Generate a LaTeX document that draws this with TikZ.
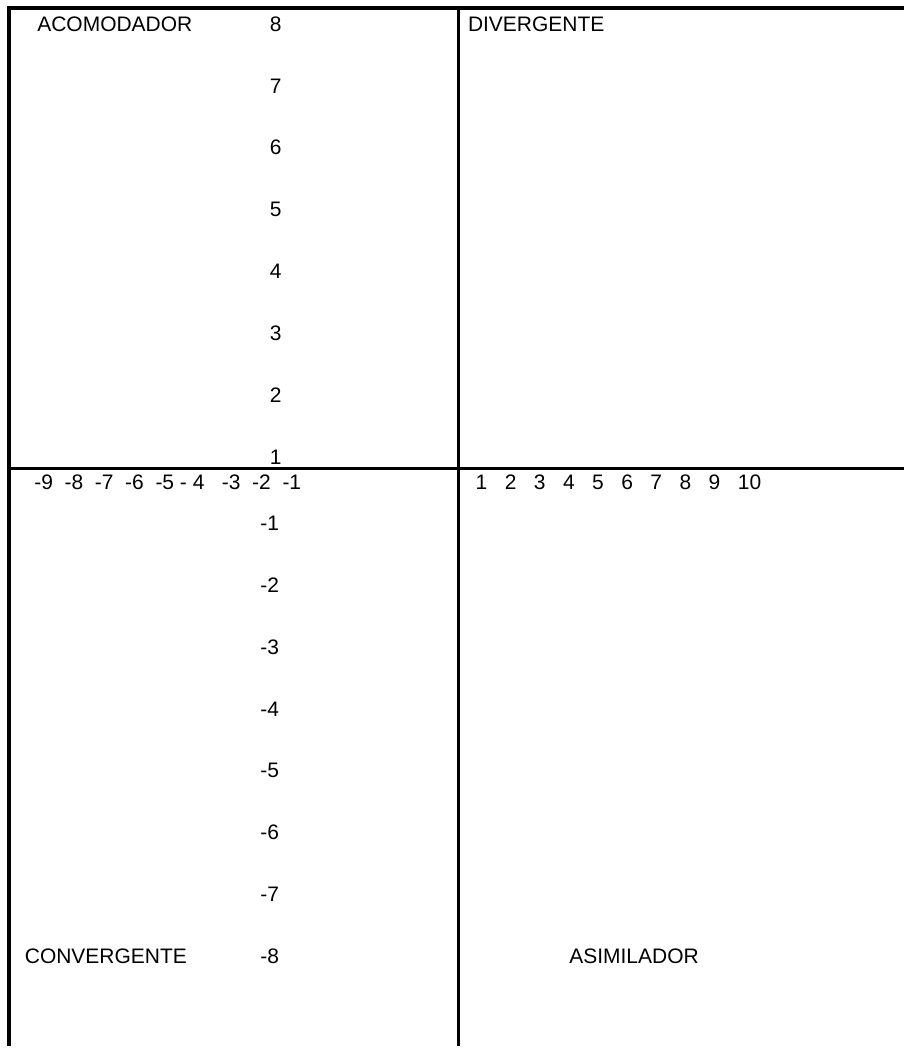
\documentclass[tikz,border=0pt]{standalone}
\usepackage{fontspec}
\setmainfont{Liberation Sans}
\usetikzlibrary{positioning}

\begin{document}
\begin{tikzpicture}[
    x=0.5pt, y=-0.5pt,
    node distance=31pt,
    on grid,
    frame/.style={line width=1.6pt},
    quadrant/.style={inner sep=0pt, font=\fontsize{10.5pt}{12pt}\selectfont},
    axis num/.style={inner sep=0pt, font=\fontsize{10.5pt}{12pt}\selectfont}
]
    % Page
    \fill[white] (0,0) rectangle (905,1048);

    % Frame and axes
    \coordinate (topleft) at (9,8);
    \coordinate (topright) at (905,8);
    \coordinate (bottomleft) at (9,1048);
    \coordinate (midtop) at (459,8);
    \coordinate (midbottom) at (459,1048);
    \coordinate (midleft) at (9,469);
    \coordinate (midright) at (905,469);
    \draw[frame] (topright) -- (topleft) -- (bottomleft);
    \draw[frame] (midtop) -- (midbottom);
    \draw[frame] (midleft) -- (midright);

    % Quadrant names
    \node (acom) [quadrant] at (115,24) {ACOMODADOR};
    \node (diver) [quadrant] at (537,24) {DIVERGENTE};
    \node (conver) [quadrant] at (106,958) {CONVERGENTE};
    \node (asim) [quadrant] at (635,958) {ASIMILADOR};

    % Vertical axis, positive side
    \node (p8) [axis num] at (276,24) {8};
    \node (p7) [axis num, below=of p8] {7};
    \node (p6) [axis num, below=of p7] {6};
    \node (p5) [axis num, below=of p6] {5};
    \node (p4) [axis num, below=of p5] {4};
    \node (p3) [axis num, below=of p4] {3};
    \node (p2) [axis num, below=of p3] {2};
    \node (p1) [axis num, below=of p2] {1};

    % Vertical axis, negative side
    \node (m1) [axis num] at (270,524) {-1};
    \node (m2) [axis num, below=of m1] {-2};
    \node (m3) [axis num, below=of m2] {-3};
    \node (m4) [axis num, below=of m3] {-4};
    \node (m5) [axis num, below=of m4] {-5};
    \node (m6) [axis num, below=of m5] {-6};
    \node (m7) [axis num, below=of m6] {-7};
    \node (m8) [axis num, below=of m7] {-8};

    % Horizontal axis
    \node (xneg) [axis num, anchor=west] at (34,483) {-9~~-8~~-7~~-6~~-5 - 4~~~-3~~-2~~-1};
    \node (xpos) [axis num, anchor=west] at (476,483) {1~~~2~~~3~~~4~~~5~~~6~~~7~~~8~~~9~~~10};
\end{tikzpicture}
\end{document}
